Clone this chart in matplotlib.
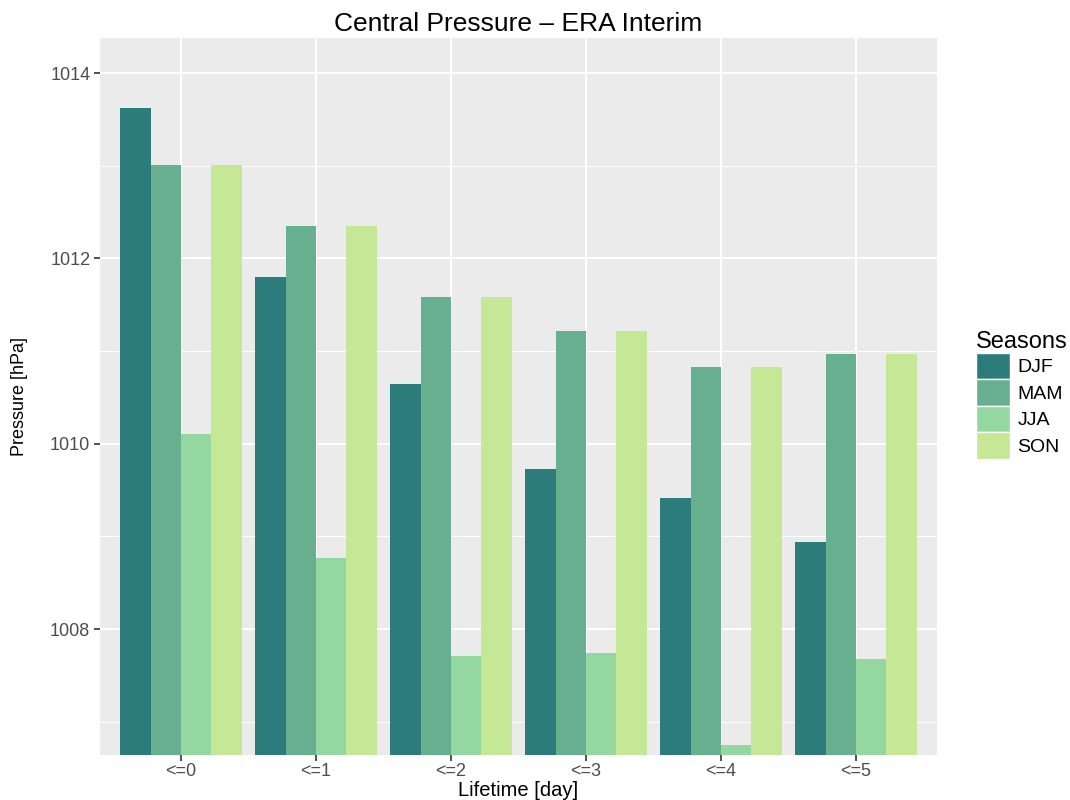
import numpy as np
import matplotlib.pyplot as plt
from matplotlib.patches import Patch
from matplotlib.ticker import MultipleLocator

# Mean central pressure per lifetime class and season
lifetimes = ['<=0', '<=1', '<=2', '<=3', '<=4', '<=5']
seasons = ['DJF', 'MAM', 'JJA', 'SON']
djf = [1013.62, 1011.80, 1010.64, 1009.73, 1009.41, 1008.94]
mam = [1013.01, 1012.35, 1011.58, 1011.22, 1010.83, 1010.97]
jja = [1010.11, 1008.77, 1007.71, 1007.74, 1006.75, 1007.68]
son = [1013.01, 1012.35, 1011.58, 1011.22, 1010.83, 1010.97]
colors = ['#2C7C7C', '#67AF8E', '#95D7A0', '#C5E896']

plt.rcParams['font.family'] = ['Liberation Sans', 'DejaVu Sans']

fig = plt.figure(figsize=(10.7, 8), dpi=100)
ax = fig.add_axes([100 / 1070, 1 - 755 / 800, 837 / 1070, 717 / 800])
ax.set_facecolor('#EBEBEB')

x = np.arange(1, len(lifetimes) + 1)
w = 0.9 / len(seasons)
for j, (vals, c) in enumerate(zip([djf, mam, jja, son], colors)):
    ax.bar(x + (j - 1.5) * w, vals, width=w, color=c, zorder=3)

ax.set_xlim(0.4, 6.6)
ax.set_ylim(1006.64, 1014.38)
ax.set_xticks(x)
ax.set_xticklabels(lifetimes)
ax.yaxis.set_major_locator(MultipleLocator(2))
ax.yaxis.set_minor_locator(MultipleLocator(1))
ax.grid(which='major', color='white', lw=1.5, zorder=0)
ax.grid(which='minor', axis='y', color='white', lw=0.7, zorder=0)
ax.set_axisbelow(True)
for s in ax.spines.values():
    s.set_visible(False)
ax.tick_params(which='major', length=4, width=1.2, color='#333333',
               labelcolor='#4D4D4D', labelsize=13, pad=3)
ax.tick_params(axis='x', pad=1.5)
ax.tick_params(which='minor', length=0)

ax.set_title('Central Pressure \u2013 ERA Interim', fontsize=19, pad=5)
ax.set_xlabel('Lifetime [day]', fontsize=14.5)
ax.xaxis.set_label_coords(0.5, -0.036)
ax.set_ylabel('Pressure [hPa]', fontsize=13)
ax.yaxis.set_label_coords(-0.086, 0.5)

handles = [Patch(facecolor=c, edgecolor='white', lw=1) for c in colors]
fig.legend(handles, seasons, title='Seasons', loc='upper left',
           bbox_to_anchor=(968 / 1070, 1 - 323 / 800), frameon=False,
           fontsize=14, title_fontsize=17, handlelength=1.75,
           handleheight=1.72, labelspacing=0.0, handletextpad=0.4,
           alignment='left', borderaxespad=0)

fig.savefig('out.png', dpi=100)
